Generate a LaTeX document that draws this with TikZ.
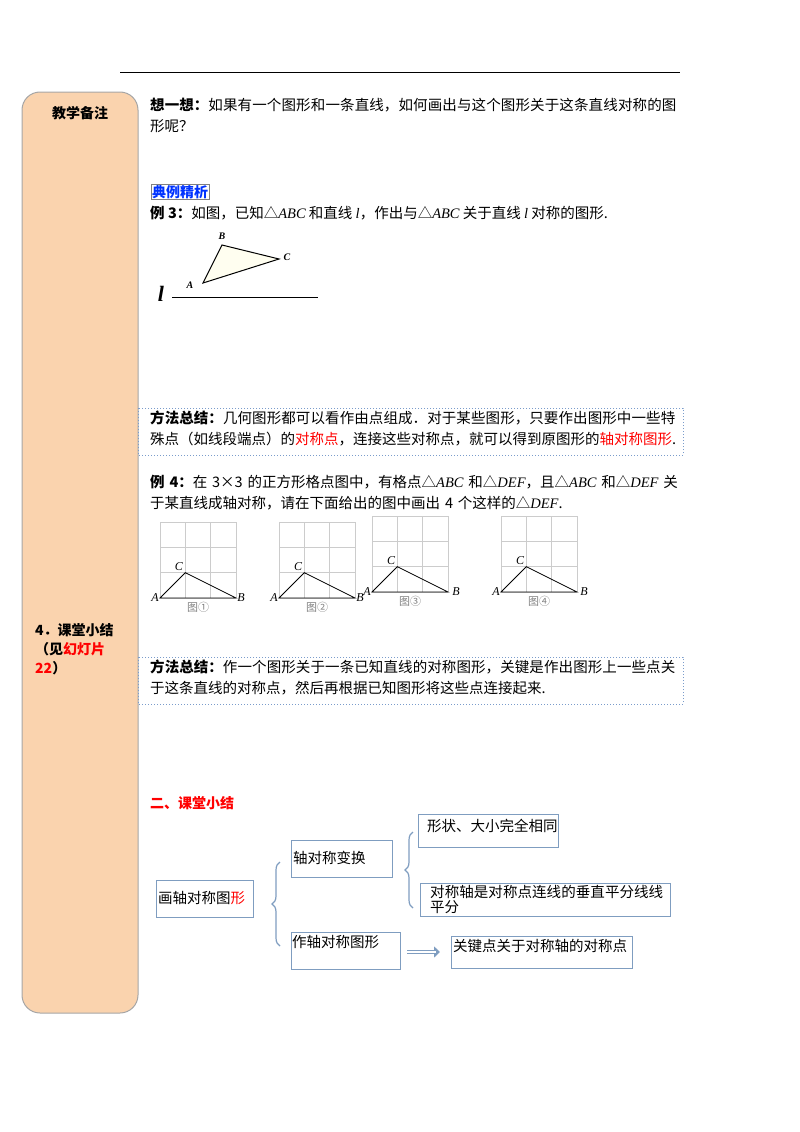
\documentclass[tikz,border=0pt]{standalone}
\usepackage{fontspec}
\setmainfont{Liberation Serif}
\newfontfamily\cjk{Noto Sans CJK SC}
\XeTeXlinebreaklocale "zh"
\XeTeXlinebreakskip=0pt plus 1pt
\newcommand\mvar[1]{{\rmfamily\itshape #1}}
\usetikzlibrary{arrows.meta,decorations.pathreplacing}
\definecolor{peach}{HTML}{FAD3AE}
\definecolor{bx}{HTML}{7F9DC0}
\definecolor{dotb}{HTML}{7A9CCB}
\begin{document}
\begin{tikzpicture}[x=1pt,y=-1pt,
  txt/.style={font=\cjk\fontsize{14.5}{21}\selectfont,inner sep=0pt,anchor=west},
  mbox/.style={draw=bx,line width=1.2pt,inner sep=2pt},
  gridl/.style={draw=gray!40,line width=0.6pt},
  lbl/.style={font=\itshape\fontsize{12}{12}\selectfont,inner sep=0pt},
  figcap/.style={font=\cjk\fontsize{11}{11}\selectfont,text=gray,inner sep=0pt}]
\useasboundingbox (0,0) rectangle (800,1132);
\draw[line width=0.8pt] (120,72) -- (680,72);
\draw[gray!70,fill=peach,rounded corners=18pt,line width=1pt] (22,92) rectangle (138,1013);
\node[txt,anchor=center,font=\cjk\bfseries\fontsize{14}{16}\selectfont] (hd) at (80,113) {教学备注};
\node[txt,anchor=north west,align=left,font=\cjk\bfseries\fontsize{14}{19}\selectfont] (side) at (35,623) {4．课堂小结\\（见\textcolor{red}{幻灯片}\\\textcolor{red}{22}）};

\node[txt,anchor=north west,text width=530pt,align=left] (t1) at (150,98) {\textbf{想一想：}如果有一个图形和一条直线，如何画出与这个图形关于这条直线对称的图形呢？};
\node[txt,text=blue!80!cyan,font=\cjk\bfseries\fontsize{14}{16}\selectfont,draw=gray,inner sep=1pt] (dl) at (151,192) {典例精析};
\node[txt] (e3) at (150,213) {\textbf{例 3：}如图，已知△\mvar{ABC} 和直线 \mvar{l}，作出与△\mvar{ABC} 关于直线 \mvar{l} 对称的图形.};

% triangle ex3
\coordinate (A3) at (203,283); \coordinate (B3) at (222,245); \coordinate (C3) at (279,259);
\draw[fill=yellow!6,line width=1pt] (A3)--(B3)--(C3)--cycle;
\node[lbl,font=\bfseries\itshape\fontsize{10}{10}\selectfont] at (190,285) {A};
\node[lbl,font=\bfseries\itshape\fontsize{10}{10}\selectfont] at (222,236) {B};
\node[lbl,font=\bfseries\itshape\fontsize{10}{10}\selectfont] at (287,257) {C};
\coordinate (l1) at (172,297); \coordinate (l2) at (318,297);
\draw[line width=0.8pt] (l1)--(l2);
\node[lbl,font=\bfseries\itshape\fontsize{22}{22}\selectfont] (ll) at (161,294) {l};

% method 1
\draw[dotb,dotted,line width=1pt] (138,408) rectangle (683,455);
\node[txt,anchor=north west,text width=528pt,align=left] (m1) at (150,411) {\textbf{方法总结：}几何图形都可以看作由点组成．对于某些图形，只要作出图形中一些特殊点（如线段端点）的\textcolor{red}{对称点}，连接这些对称点，就可以得到原图形的\textcolor{red}{轴对称图形}.};

\node[txt,anchor=north west,text width=528pt,align=left] (e4) at (150,475) {\textbf{例 4：}在 3×3 的正方形格点图中，有格点△\mvar{ABC} 和△\mvar{DEF}，且△\mvar{ABC} 和△\mvar{DEF} 关于某直线成轴对称，请在下面给出的图中画出 4 个这样的△\mvar{DEF}.};

% grids
\foreach \x/\y/\nn in {160/598/①,279/598/②,372/592/③,501/592/④}{
  \begin{scope}[shift={(\x,\y)}]
  \foreach \i in {0,1,2,3}{
    \draw[gridl] (\i*25.3,0) -- (\i*25.3,-76);
    \draw[gridl] (0,-\i*25.3) -- (76,-\i*25.3);}
  \draw[line width=0.8pt] (0,0) -- (25.3,-25.3) -- (76,0) -- cycle;
  \node[lbl] at (-5,0) {A};
  \node[lbl] at (19,-31) {C};
  \node[figcap] at (38,9) {图\nn};
  \end{scope}}
\node[lbl] at (241,598) {B};
\node[lbl] at (360,598) {B};
\node[lbl] at (456,592) {B};
\node[lbl] at (584,592) {B};

% method 2
\draw[dotb,dotted,line width=1pt] (138,657) rectangle (683,704);
\node[txt,anchor=north west,text width=528pt,align=left] (m2) at (150,660) {\textbf{方法总结：}作一个图形关于一条已知直线的对称图形，关键是作出图形上一些点关于这条直线的对称点，然后再根据已知图形将这些点连接起来.};

\node[txt,text=red,font=\cjk\bfseries\fontsize{14}{16}\selectfont] (s2) at (150,803) {二、课堂小结};

% concept map
\node[mbox,anchor=north west,minimum width=97pt,minimum height=37pt] (b0) at (156,880) {};
\node[txt] at (158,898) {画轴对称图\textcolor{red}{形}};
\node[mbox,anchor=north west,minimum width=101pt,minimum height=37pt] (b1) at (291,840) {};
\node[txt] at (293,858) {轴对称变换};
\node[mbox,anchor=north west,minimum width=140pt,minimum height=33pt] (b2) at (418,814) {};
\node[txt] at (427,826) {形状、大小完全相同};
\node[mbox,anchor=north west,minimum width=250pt,minimum height=33pt] (b3) at (420,883) {};
\node[txt,anchor=north west,text width=235pt,align=left,font=\cjk\fontsize{14.5}{15}\selectfont] at (430,885) {对称轴是对称点连线的垂直平分线线平分};
\node[mbox,anchor=north west,minimum width=109pt,minimum height=37pt] (b4) at (291,932) {};
\node[txt] at (292,942) {作轴对称图形};
\node[mbox,anchor=north west,minimum width=181pt,minimum height=32pt] (b5) at (451,936) {};
\node[txt] at (453,946) {关键点关于对称轴的对称点};
\draw[bx,line width=1.2pt,decorate,decoration={brace,amplitude=8pt,mirror}] (280,862) -- (280,946);
\draw[bx,line width=1.2pt,decorate,decoration={brace,amplitude=8pt,mirror}] (413,832) -- (413,908);
\coordinate (ar1) at (407,952); \coordinate (ar2) at (440,952);
\draw[bx,line width=3.5pt,-{Triangle[length=6pt,width=11pt]}] (ar1) -- (ar2);
\draw[white,line width=1.2pt,shorten >=4pt] (ar1) -- (ar2);
\end{tikzpicture}
\end{document}
